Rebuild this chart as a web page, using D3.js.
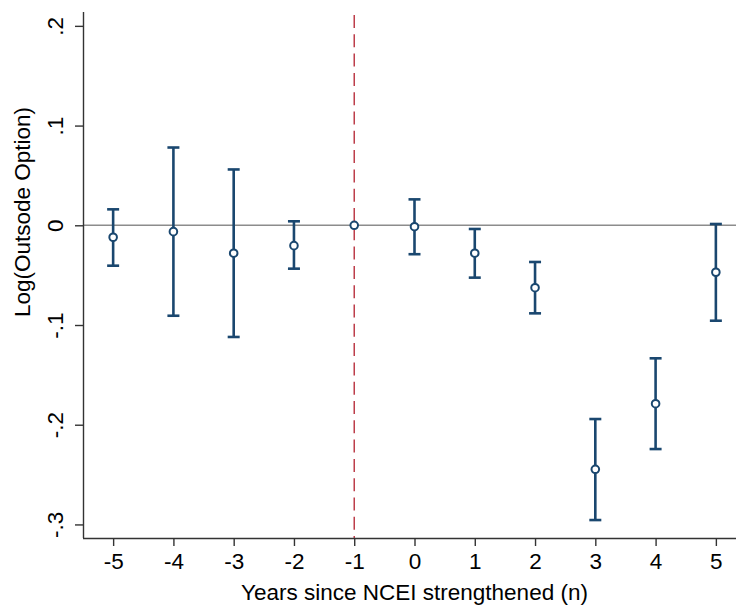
<!DOCTYPE html>
<html>
<head>
<meta charset="utf-8">
<script src="https://cdn.jsdelivr.net/npm/d3@7"></script>
<style>
  html, body { margin: 0; padding: 0; background: #fff; }
  svg { display: block; font-family: "Liberation Sans", Arial, Helvetica, sans-serif; }
</style>
</head>
<body>
<svg id="chart" width="736" height="607"></svg>
<script>
// Event-study estimates: years relative to NCEI strengthening
const years    = [-5, -4, -3, -2, -1, 0, 1, 2, 3, 4, 5];
const estimate = [-0.012, -0.0064, -0.028, -0.0204, 0, -0.0014, -0.028, -0.0626, -0.2447, -0.1789, -0.0471];
const ciLower  = [-0.0405, -0.0907, -0.112, -0.0435, 0, -0.029, -0.0525, -0.0883, -0.2956, -0.2244, -0.0957];
const ciUpper  = [0.016, 0.078, 0.056, 0.004, 0, 0.026, -0.0037, -0.0368, -0.1943, -0.1334, 0.0013];
const hasBar   = [true, true, true, true, false, true, true, true, true, true, true];

const yTickValues = [0.2, 0.1, 0, -0.1, -0.2, -0.3];
const yTickLabels = [".2", ".1", "0", "-.1", "-.2", "-.3"];
const xTickValues = years;
const referenceYear = -1;

const xTitle = "Years since NCEI strengthened (n)";
const yTitle = "Log(Outsode Option)";

const svg = d3.select("#chart");
const W = 736, H = 607;
const plotLeft = 83, plotRight = 746, plotTop = 12, plotBottom = 538;

const x = d3.scaleLinear().domain([-5.5, 5.5]).range([plotLeft, plotRight]);
const y = d3.scaleLinear().domain([-0.3136, 0.2139]).range([plotBottom, plotTop]);

const navy = "#1a476f";
const fontSize = 22.5;

// zero reference line
svg.append("line")
  .attr("x1", plotLeft).attr("x2", W)
  .attr("y1", y(0)).attr("y2", y(0))
  .attr("stroke", "#8c8c8c").attr("stroke-width", 1.4);

// vertical dashed line at the reference year
svg.append("line")
  .attr("x1", x(referenceYear)).attr("x2", x(referenceYear))
  .attr("y1", plotTop).attr("y2", plotBottom)
  .attr("stroke", "#b8303e").attr("stroke-width", 1.4)
  .attr("stroke-dasharray", "13,6.3")
  .attr("stroke-dashoffset", 16.3);

// y axis
const yAxis = d3.axisLeft(y)
  .tickValues(yTickValues)
  .tickFormat((d, i) => yTickLabels[i])
  .tickSize(8)
  .tickSizeOuter(0);
const gy = svg.append("g").attr("transform", `translate(${plotLeft},0)`).call(yAxis);
gy.select(".domain").attr("stroke", "#333").attr("stroke-width", 1.4)
  .attr("d", `M0.5,${plotTop}V${plotBottom}`);
gy.selectAll(".tick line").attr("stroke", "#333").attr("stroke-width", 1.4);
gy.selectAll(".tick text")
  .attr("font-size", fontSize)
  .attr("fill", "#000")
  .attr("text-anchor", "middle")
  .attr("x", null).attr("dy", null)
  .attr("transform", "translate(-20,0) rotate(-90)");

// x axis
const xAxis = d3.axisBottom(x)
  .tickValues(xTickValues)
  .tickFormat(d3.format("d"))
  .tickSize(8)
  .tickSizeOuter(0);
const gx = svg.append("g").attr("transform", `translate(0,${plotBottom})`).call(xAxis);
gx.select(".domain").attr("stroke", "#333").attr("stroke-width", 1.4)
  .attr("d", `M${plotLeft},0.5H${W}`);
gx.selectAll(".tick line").attr("stroke", "#333").attr("stroke-width", 1.4);
gx.selectAll(".tick text")
  .attr("font-size", fontSize)
  .attr("fill", "#000")
  .attr("y", 30.5).attr("dy", null)
  .text(d => d < 0 ? "-" + Math.abs(d) : String(d));

// axis titles
svg.append("text")
  .attr("x", (plotLeft + plotRight) / 2).attr("y", 599.5)
  .attr("text-anchor", "middle")
  .attr("font-size", fontSize)
  .attr("fill", "#000")
  .text(xTitle);

svg.append("text")
  .attr("transform", `translate(29.5,212) rotate(-90)`)
  .attr("text-anchor", "middle")
  .attr("font-size", fontSize)
  .attr("fill", "#000")
  .text(yTitle);

// confidence intervals
const rows = years.map((yr, i) => ({ yr, est: estimate[i], lo: ciLower[i], hi: ciUpper[i], bar: hasBar[i] }));
const bars = svg.append("g").attr("stroke", navy).attr("stroke-width", 2.6).attr("fill", "none");
const capHalf = 6;
rows.filter(d => d.bar).forEach(d => {
  const cx = x(d.yr);
  bars.append("line").attr("x1", cx).attr("x2", cx).attr("y1", y(d.hi)).attr("y2", y(d.lo));
  bars.append("line").attr("x1", cx - capHalf).attr("x2", cx + capHalf).attr("y1", y(d.hi)).attr("y2", y(d.hi));
  bars.append("line").attr("x1", cx - capHalf).attr("x2", cx + capHalf).attr("y1", y(d.lo)).attr("y2", y(d.lo));
});

// point estimates
svg.append("g").selectAll("circle")
  .data(rows)
  .join("circle")
  .attr("cx", d => x(d.yr))
  .attr("cy", d => y(d.est))
  .attr("r", 3.8)
  .attr("fill", "#fff")
  .attr("stroke", navy)
  .attr("stroke-width", 2);
</script>
</body>
</html>
